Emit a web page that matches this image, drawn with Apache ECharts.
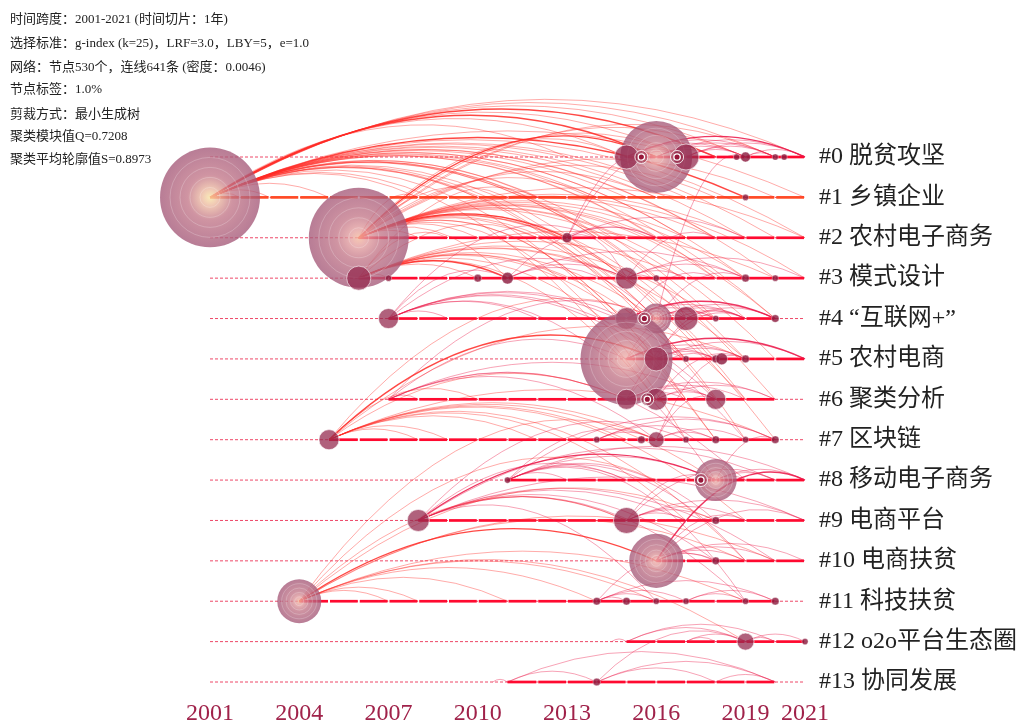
<!DOCTYPE html>
<html><head><meta charset="utf-8">
<script src="https://cdn.jsdelivr.net/npm/echarts@6/dist/echarts.min.js"></script>
<style>html,body{margin:0;padding:0;background:#fff}#c{width:1020px;height:726px}</style>
</head><body><div id="c"></div>
<script>
// ---------------- data ----------------
const clusterLabels = ['#0 脱贫攻坚','#1 乡镇企业','#2 农村电子商务','#3 模式设计','#4 “互联网+”','#5 农村电商','#6 聚类分析','#7 区块链','#8 移动电子商务','#9 电商平台','#10 电商扶贫','#11 科技扶贫','#12 o2o平台生态圈','#13 协同发展'];
const yearTicks = [2001,2004,2007,2010,2013,2016,2019,2021];
const infoLines = ['时间跨度：2001-2021 (时间切片：1年)','选择标准：g-index (k=25)，LRF=3.0，LBY=5，e=1.0','网络：节点530个，连线641条 (密度：0.0046)','节点标签：1.0%','剪裁方式：最小生成树','聚类模块值Q=0.7208','聚类平均轮廓值S=0.8973'];
// [cluster, first year, last year]
const activeRanges = [[0,2015,2021],[1,2001,2021],[2,2006,2021],[3,2006,2021],[4,2007,2020],[5,2015,2021],[6,2007,2020],[7,2005,2020],[8,2011,2021],[9,2008,2021],[10,2016,2021],[11,2004,2020],[12,2015,2021],[13,2011,2020]];
// [cluster, year, frequency]
const nodes = [
 [0,2016,268],[0,2015,30],[0,2017,35],[0,2019,5],[0,2018.7,2],[0,2020,2],[0,2020.3,2],
 [1,2001,516],[1,2019,2],
 [2,2006,516],[2,2013,5],
 [3,2006,30],[3,2007,2],[3,2010,3],[3,2011,7],[3,2015,25],[3,2016,2],[3,2019,3],[3,2020,2],
 [4,2007,21],[4,2015,25],[4,2016,46],[4,2017,30],[4,2018,2],[4,2020,3],
 [5,2015,437],[5,2016,30],[5,2017,2],[5,2018,3],[5,2018.2,7],[5,2019,3],
 [6,2015,21],[6,2016,25],[6,2018,21],
 [7,2005,21],[7,2014,2],[7,2015.5,3],[7,2016,13],[7,2017,2],[7,2018,3],[7,2019,2],[7,2020,3],
 [8,2011,2],[8,2018,91],
 [9,2008,25],[9,2015,35],[9,2018,3],
 [10,2016,151],[10,2018,3],
 [11,2004,100],[11,2014,3],[11,2015,3],[11,2016,2],[11,2017,2],[11,2019,2],[11,2020,3],
 [12,2019,15],[12,2021,2],
 [13,2014,3]
];
// [cluster, year]
const burstNodes = [[0,2015.5],[0,2016.7],[4,2015.6],[6,2015.7],[8,2017.5]];
// [cluster A, year A, cluster B, year B, strength]
const links = [
 [1,2001,0,2021,1],[1,2001,0,2020,1],[1,2001,0,2019,1],[1,2001,0,2018,2],[1,2001,0,2017,1],[1,2001,0,2016,2],[1,2001,0,2015,1],[1,2001,0,2013,1],
 [1,2001,1,2002,1],[1,2001,1,2003,1],[1,2001,1,2005,1],[1,2001,1,2008,1],[1,2001,1,2010,1],[1,2001,1,2012,1],[1,2001,1,2014,1],[1,2001,1,2015,1],[1,2001,1,2016,1],[1,2001,1,2017,1],[1,2001,1,2019,2],[1,2001,1,2021,1],
 [1,2001,2,2014,1],[1,2001,2,2016,1],[1,2001,2,2017,1],[1,2001,2,2018,1],[1,2001,2,2019,1],[1,2001,2,2020,1],[1,2001,2,2021,1],
 [1,2001,3,2016,1],[1,2001,3,2018,1],[1,2001,3,2019,1],[1,2001,3,2020,1],[1,2001,4,2016,1],[1,2001,4,2018,1],[1,2001,4,2020,1],
 [1,2001,5,2017,1],[1,2001,5,2019,1],[1,2001,6,2016,1],[1,2001,6,2018,1],[1,2001,6,2020,1],[1,2001,7,2018,1],[1,2001,7,2020,1],
 [2,2006,0,2015,1],[2,2006,0,2016,2],[2,2006,0,2017,1],[2,2006,0,2019,1],[2,2006,0,2020,1],
 [2,2006,1,2008,1],[2,2006,1,2011,1],[2,2006,1,2014,1],[2,2006,1,2016,1],[2,2006,1,2018,1],[2,2006,1,2020,1],
 [2,2006,2,2008,1],[2,2006,2,2010,1],[2,2006,2,2013,2],[2,2006,2,2015,1],[2,2006,2,2016,1],[2,2006,2,2017,1],[2,2006,2,2018,1],[2,2006,2,2019,1],[2,2006,2,2021,1],
 [2,2006,3,2011,1],[2,2006,3,2015,1],[2,2006,3,2018,1],[2,2006,3,2019,1],[2,2006,3,2021,1],[2,2006,4,2016,1],[2,2006,4,2017,1],[2,2006,4,2019,1],[2,2006,4,2020,1],
 [2,2006,5,2016,1],[2,2006,5,2018,1],[2,2006,5,2020,1],[2,2006,6,2017,1],[2,2006,6,2019,1],[2,2006,7,2017,1],[2,2006,7,2019,1],
 [2,2013,0,2016,1],[2,2013,0,2017,1],[2,2013,2,2016,1],[2,2013,2,2019,1],[2,2013,3,2015,1],
 [3,2006,2,2009,1],[3,2006,2,2012,1],[3,2006,1,2012,1],[3,2006,3,2007,1],[3,2006,3,2010,1],[3,2006,3,2011,2],[3,2006,3,2013,1],[3,2006,3,2015,1],[3,2006,3,2017,1],[3,2006,3,2020,1],
 [3,2006,4,2015,1],[3,2006,4,2018,1],[3,2006,5,2017,1],[3,2006,5,2019,1],[3,2006,6,2016,1],[3,2006,6,2019,1],[3,2006,7,2018,1],
 [3,2011,3,2015,1],[3,2011,3,2019,1],[3,2011,2,2016,1],[3,2011,4,2016,1],
 [3,2015,3,2017,1],[3,2015,3,2019,1],[3,2015,3,2021,1],[3,2015,2,2018,1],[3,2015,4,2017,1],
 [4,2007,4,2009,1],[4,2007,4,2012,1],[4,2007,4,2015,1],[4,2007,3,2011,1],[4,2007,3,2015,1],[4,2007,2,2014,1],
 [4,2007,5,2017,1],[4,2007,6,2018,1],[4,2007,7,2019,1],[4,2007,8,2018,1],
 [4,2015,4,2016,1],[4,2015,4,2017,1],[4,2015,4,2018,1],[4,2015,4,2019,1],[4,2015,4,2020,2],[4,2015,3,2018,1],
 [4,2016,4,2018,1],[4,2016,4,2019,1],[4,2016,4,2020,1],[4,2016,0,2019,1],[4,2016,3,2019,1],
 [4,2017,4,2019,1],[4,2017,4,2020,1],
 [5,2015,5,2016,1],[5,2015,5,2017,1],[5,2015,5,2018,1],[5,2015,5,2019,1],[5,2015,5,2021,2],[5,2015,4,2017,1],[5,2015,4,2019,1],
 [5,2016,5,2018,1],[5,2016,5,2019,1],[5,2016,5,2021,1],[5,2016,4,2018,1],
 [6,2007,6,2008,1],[6,2007,6,2015,1],[6,2007,5,2015,1],[6,2007,4,2016,1],[6,2007,6,2018,1],[6,2007,7,2016,1],[6,2007,8,2019,1],
 [6,2015,6,2016,1],[6,2015,6,2017,1],[6,2015,6,2018,1],[6,2015,6,2019,1],[6,2015,6,2020,1],[6,2015,5,2018,1],[6,2015,4,2019,1],
 [6,2016,6,2018,1],[6,2016,6,2020,1],[6,2016,5,2019,1],
 [7,2005,7,2008,1],[7,2005,7,2009,1],[7,2005,7,2012,1],[7,2005,7,2015,1],[7,2005,7,2016,1],[7,2005,7,2020,1],[7,2005,6,2010,1],[7,2005,6,2015,1],[7,2005,5,2016,2],[7,2005,4,2016,1],[7,2005,5,2019,1],
 [7,2005,8,2018,1],[7,2005,9,2017,1],[7,2005,9,2019,1],[7,2005,10,2019,1],
 [7,2014,7,2016,1],[7,2014,7,2018,1],[7,2014,7,2020,1],
 [7,2016,7,2018,1],[7,2016,7,2019,1],[7,2016,6,2018,1],[7,2016,5,2019,1],
 [8,2011,8,2013,1],[8,2011,8,2015,1],[8,2011,8,2018,1],[8,2011,8,2021,1],[8,2011,7,2016,1],[8,2011,7,2020,1],[8,2011,9,2018,1],[8,2011,10,2019,1],[8,2011,11,2019,1],
 [8,2018,8,2019,1],[8,2018,8,2020,1],[8,2018,8,2021,1],[8,2018,7,2020,1],
 [9,2008,9,2015,1],[9,2008,9,2017,1],[9,2008,8,2015,1],[9,2008,8,2018,2],[9,2008,8,2020,1],[9,2008,9,2021,1],[9,2008,7,2017,1],
 [9,2008,10,2018,1],[9,2008,10,2020,1],[9,2008,11,2016,1],[9,2008,11,2019,1],
 [9,2015,9,2017,1],[9,2015,9,2018,1],[9,2015,9,2019,1],[9,2015,9,2021,1],[9,2015,8,2018,1],[9,2015,8,2020,1],
 [10,2016,10,2018,1],[10,2016,10,2019,1],[10,2016,10,2020,1],[10,2016,10,2021,1],[10,2016,9,2019,1],[10,2016,9,2021,1],[10,2016,8,2021,2],
 [11,2004,11,2007,1],[11,2004,11,2008,1],[11,2004,11,2011,1],[11,2004,11,2014,1],[11,2004,11,2016,1],[11,2004,11,2019,1],[11,2004,10,2016,2],[11,2004,9,2015,1],[11,2004,8,2016,1],[11,2004,9,2018,1],[11,2004,10,2019,1],[11,2004,7,2016,1],[11,2004,10,2020,1],[11,2004,12,2019,1],
 [11,2014,11,2015,1],[11,2014,11,2016,1],[11,2014,11,2017,1],[11,2014,11,2020,1],[11,2014,10,2018,1],
 [11,2017,11,2019,1],[11,2017,11,2020,1],
 [12,2014.5,12,2015,1],[12,2015,12,2019,1],[12,2015,12,2020,1],[12,2017,12,2018,1],[12,2017,12,2019,1],[12,2019,12,2020,1],[12,2019,12,2021,1],
 [13,2010.5,13,2011,1],[13,2011,13,2014,1],[13,2011,13,2020,1],[13,2014,13,2018,1],[13,2014,12,2019,1],[13,2014,13,2020,1],[13,2018,13,2020,1],
 [0,2015,0,2017,1],[0,2015,0,2019,1],[0,2015,0,2020,1],[0,2015,0,2021,2],[0,2016,0,2018,1],[0,2016,0,2019,1],[0,2016,0,2020,1],[0,2016,0,2021,1],[0,2017,0,2019,1],[0,2017,0,2020,1],[0,2017,0,2021,1],[0,2019,0,2020,1],[0,2019,0,2021,1]
];

// ---------------- chart ----------------
const SERIF = '"Liberation Serif","Times New Roman","DejaVu Serif","Noto Sans CJK SC",serif';
const chart = echarts.init(document.getElementById('c'));
const radiusOf = f => 2.2 * Math.sqrt(f);

const rowSeries = {
  type: 'custom', coordinateSystem: 'cartesian2d', silent: true, z: 1, clip: false,
  encode: { x: [1, 2], y: 0 },
  data: activeRanges,
  renderItem(params, api) {
    const c = api.value(0), s = api.value(1), e = api.value(2);
    const a = api.coord([2001, c]), b = api.coord([2021, c]);
    const children = [{ type: 'line', shape: { x1: a[0], y1: a[1], x2: b[0], y2: b[1] },
      style: { stroke: '#ee4868', lineWidth: 1, lineDash: [3, 2] } }];
    const col = c === 1 ? '#ff4a26' : '#ff0a30';
    for (let y = s; y < e; y++) {
      const p = api.coord([y, c]), q = api.coord([Math.min(y + 1, e), c]);
      children.push({ type: 'line', shape: { x1: p[0] + (y === s ? 0 : 1), y1: p[1], x2: q[0] - 1, y2: q[1] },
        style: { stroke: col, lineWidth: 2.7 } });
    }
    return { type: 'group', children };
  }
};

const linkSeries = {
  type: 'custom', coordinateSystem: 'cartesian2d', silent: true, z: 2, clip: false,
  encode: { x: [1, 3], y: [0, 2] },
  data: links,
  renderItem(params, api) {
    let p = api.coord([api.value(1), api.value(0)]);
    let q = api.coord([api.value(3), api.value(2)]);
    if (p[0] > q[0]) { const t = p; p = q; q = t; }
    const dx = q[0] - p[0];
    const cx = (p[0] + q[0]) / 2;
    const cy = Math.min(p[1], q[1]) - 0.22 * dx - 2;
    const strong = api.value(4) > 1;
    const early = Math.min(api.value(1), api.value(3)) <= 2006;
    const alpha = strong ? 0.85 : 0.44;
    const stroke = early ? `rgba(255,40,35,${alpha})` : `rgba(235,20,70,${alpha})`;
    return { type: 'bezierCurve',
      shape: { x1: p[0], y1: p[1], x2: q[0], y2: q[1], cpx1: cx, cpy1: cy },
      style: { stroke, lineWidth: strong ? 1.4 : 0.9, fill: null } };
  }
};

const nodeSeries = {
  type: 'custom', coordinateSystem: 'cartesian2d', silent: true, z: 3, clip: false,
  encode: { x: 1, y: 0 },
  data: nodes,
  renderItem(params, api) {
    const c = api.value(0), yr = api.value(1), f = api.value(2);
    const p = api.coord([yr, c]);
    const r = radiusOf(f);
    if (f >= 40) {
      const t = (yr - 2001) / 20;
      const center = t < 0.1 ? '#f7e4a4' : (t < 0.4 ? '#f3b89c' : '#efb0aa');
      const grad = new echarts.graphic.RadialGradient(0.5, 0.5, 0.5, [
        { offset: 0, color: center }, { offset: 0.16, color: t < 0.1 ? '#ecbaa0' : '#e4a0a0' },
        { offset: 0.45, color: '#c27688' }, { offset: 1, color: '#a45878' }]);
      const children = [{ type: 'circle', shape: { cx: p[0], cy: p[1], r }, style: { fill: grad, opacity: 0.78 } }];
      [0.2, 0.4, 0.6, 0.8].forEach(k => children.push({ type: 'circle', shape: { cx: p[0], cy: p[1], r: r * k },
        style: { fill: null, stroke: 'rgba(255,255,255,0.28)', lineWidth: 0.8 } }));
      return { type: 'group', children };
    }
    const fill = f <= 8 ? 'rgba(140,28,64,0.82)' : 'rgba(148,42,78,0.74)';
    return { type: 'circle', shape: { cx: p[0], cy: p[1], r },
      style: { fill, stroke: 'rgba(255,255,255,0.7)', lineWidth: f <= 8 ? 0.5 : 0.9 } };
  }
};

const burstSeries = {
  type: 'custom', coordinateSystem: 'cartesian2d', silent: true, z: 4, clip: false,
  encode: { x: 1, y: 0 },
  data: burstNodes,
  renderItem(params, api) {
    const p = api.coord([api.value(1), api.value(0)]);
    return { type: 'group', children: [
      { type: 'circle', shape: { cx: p[0], cy: p[1], r: 6.5 }, style: { fill: 'rgba(150,40,70,0.5)', stroke: 'rgba(255,255,255,0.85)', lineWidth: 1 } },
      { type: 'circle', shape: { cx: p[0], cy: p[1], r: 3.2 }, style: { fill: 'rgba(150,20,55,0.95)', stroke: '#fff', lineWidth: 1.3 } }
    ] };
  }
};

const graphic = infoLines.map((t, i) => ({
  type: 'text', left: 10, top: [13, 37, 61, 83, 108, 130, 153][i],
  style: { text: t, fill: '#222', font: '13px ' + SERIF }
}));

chart.setOption({
  backgroundColor: '#fff',
  animation: false,
  grid: { left: 210, right: 212, top: 157, bottom: 38, containLabel: false },
  xAxis: {
    type: 'value', min: 2001, max: 2021, interval: 1,
    axisLine: { show: false }, axisTick: { show: false }, splitLine: { show: false },
    axisLabel: {
      margin: 20, fontSize: 24, color: '#a0224a', fontFamily: SERIF, showMinLabel: true, showMaxLabel: true,
      formatter: v => (yearTicks.indexOf(Math.round(v)) >= 0 ? String(Math.round(v)) : '')
    }
  },
  yAxis: {
    type: 'category', data: clusterLabels, inverse: true, boundaryGap: false, position: 'right',
    axisLine: { show: false }, axisTick: { show: false }, splitLine: { show: false },
    axisLabel: { margin: 14, fontSize: 24, color: '#222', fontFamily: SERIF, padding: [0, 0, 6, 0], interval: 0 }
  },
  graphic,
  series: [rowSeries, linkSeries, nodeSeries, burstSeries]
});
</script>
</body></html>
